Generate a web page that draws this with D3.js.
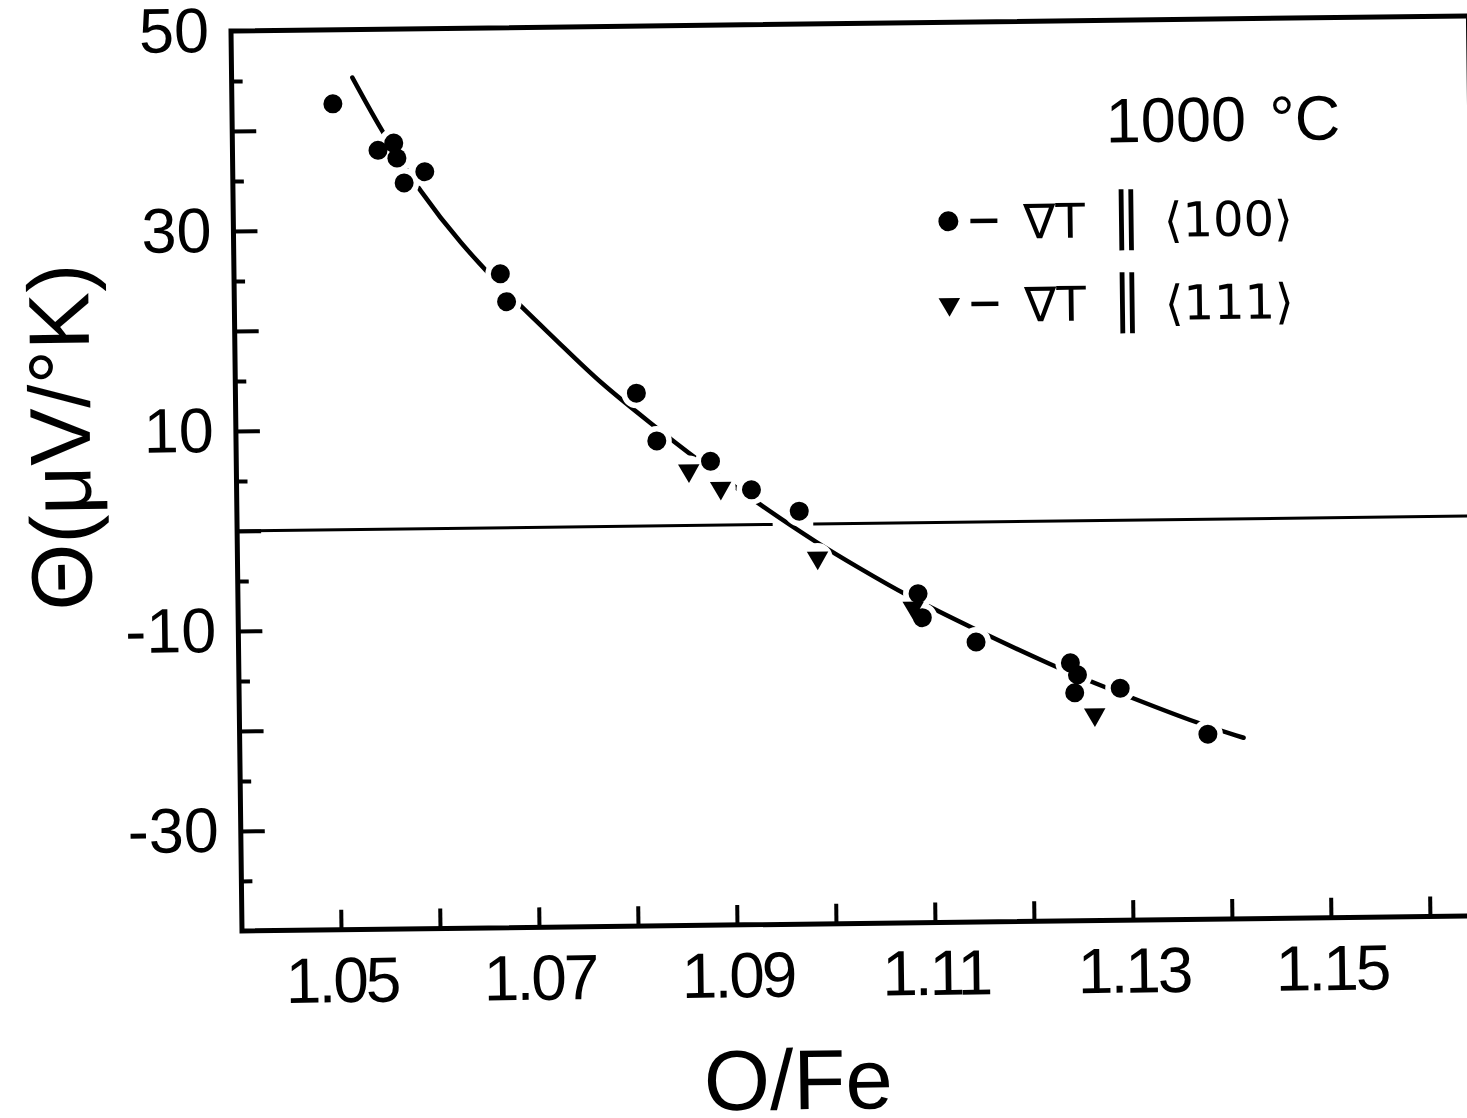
<!DOCTYPE html>
<html>
<head>
<meta charset="utf-8">
<script src="https://cdn.jsdelivr.net/npm/d3@7"></script>
<style>
    body { margin: 0; background: #fff; }
    svg { display: block; }
    text { font-family: "Liberation Sans", Arial, "DejaVu Sans", sans-serif; fill: #000; }
</style>
</head>
<body>
<div id="chart"></div>
<script>

// thermoelectric power vs O/Fe at 1000 C
// filled circles: grad T || <100>
const circleX = [1.0502, 1.0547, 1.0563, 1.0566, 1.0573, 1.0594, 1.0669, 1.0675, 1.0805, 1.0825, 1.0879,
                 1.0920, 1.0968, 1.1087, 1.1091, 1.1145, 1.1240, 1.1247, 1.1244, 1.1290, 1.1378];
const circleY = [42.6, 37.9, 38.6, 37.1, 34.6, 35.7, 25.4, 22.6, 13.3, 8.5, 6.4,
                 3.5, 1.3, -7.1, -9.5, -12.0, -14.2, -15.4, -17.2, -16.8, -21.5];

// filled down triangles: grad T || <111>
const triangleX = [1.0857, 1.0889, 1.0986, 1.1082, 1.1264];
const triangleY = [5.5, 3.7, -3.4, -8.5, -19.4];

// hand drawn fit curve
const curveX = [1.0522, 1.0552, 1.0589, 1.0629, 1.0674, 1.0729, 1.0768, 1.0820, 1.0861, 1.0928,
                1.0987, 1.1027, 1.1074, 1.1141, 1.1225, 1.1275, 1.1367, 1.1414];
const curveY = [45.2, 39.6, 33.7, 28.5, 23.6, 18.3, 14.4, 10.2, 6.9, 2.0,
                -2.0, -4.4, -7.2, -10.6, -14.6, -16.7, -20.4, -21.9];

// zero line is broken where the curve crosses it
const zeroGap = [1.0941, 1.0982];

const xDomain = [1.04, 1.165];
const yDomain = [-40, 50];
const xTickValues = [1.05, 1.06, 1.07, 1.08, 1.09, 1.10, 1.11, 1.12, 1.13, 1.14, 1.15, 1.16];
const xTickLabels = ["1.05", "1.07", "1.09", "1.11", "1.13", "1.15"];
const yMajorTicks = [40, 30, 20, 10, 0, -10, -20, -30];
const yMinorTicks = [45, 35, 25, 15, 5, -5, -15, -25, -35];
const yTickLabels = [50, 30, 10, -10, -30];

const legendDirections = ["\u27E8100\u27E9", "\u27E8111\u27E9"];


const width = 1467, height = 1118;
const plotW = 1237.5, plotH = 900;
const tilt = -0.7;   // the scan is slightly rotated

const svg = d3.select("#chart").append("svg")
    .attr("width", width)
    .attr("height", height);

svg.append("rect")
    .attr("width", width)
    .attr("height", height)
    .attr("fill", "#fff");

const g = svg.append("g")
    .attr("transform", `translate(242, 931) rotate(${tilt}) translate(0, ${-plotH})`);

const x = d3.scaleLinear().domain(xDomain).range([0, plotW]);
const y = d3.scaleLinear().domain(yDomain).range([plotH, 0]);

// axes
const fmt = d3.format(".2f");
const xAxis = d3.axisBottom(x)
    .tickValues(xTickValues)
    .tickSizeInner(-20)
    .tickSizeOuter(0)
    .tickPadding(27)
    .tickFormat(d => xTickLabels.includes(fmt(d)) ? fmt(d) : "");

const xg = g.append("g")
    .attr("transform", `translate(0, ${plotH})`)
    .call(xAxis);

const yLabelAxis = d3.axisLeft(y).tickValues(yTickLabels).tickSize(0).tickPadding(22).tickFormat(d => String(d));
const yMajorAxis = d3.axisLeft(y).tickValues(yMajorTicks).tickSizeInner(-24).tickSizeOuter(0).tickFormat("");
const yMinorAxis = d3.axisLeft(y).tickValues(yMinorTicks).tickSizeInner(-11).tickSizeOuter(0).tickFormat("");

const yg1 = g.append("g").call(yLabelAxis);
const yg2 = g.append("g").call(yMajorAxis);
const yg3 = g.append("g").call(yMinorAxis);

[xg, yg1, yg2, yg3].forEach(a => {
    a.attr("font-family", null).attr("font-size", null);
    a.select(".domain").remove();
    a.selectAll(".tick line").attr("stroke", "#000").attr("stroke-width", 4);
});
xg.selectAll("text").style("font-size", "64px").style("letter-spacing", "-3px");
yg1.selectAll("text").style("font-size", "63px");

// frame
g.append("rect")
    .attr("x", 0)
    .attr("y", 0)
    .attr("width", plotW)
    .attr("height", plotH)
    .attr("fill", "none")
    .attr("stroke", "#000")
    .attr("stroke-width", 5);

// zero line
g.selectAll(".zero")
    .data([[xDomain[0], zeroGap[0]], [zeroGap[1], xDomain[1]]])
    .enter().append("line")
    .attr("class", "zero")
    .attr("x1", d => x(d[0]))
    .attr("x2", d => x(d[1]))
    .attr("y1", y(0))
    .attr("y2", y(0))
    .attr("stroke", "#000")
    .attr("stroke-width", 3);

// fit curve
const line = d3.line()
    .x(d => x(d[0]))
    .y(d => y(d[1]))
    .curve(d3.curveBasis);

g.append("path")
    .datum(d3.zip(curveX, curveY))
    .attr("d", line)
    .attr("fill", "none")
    .attr("stroke", "#000")
    .attr("stroke-width", 4.5)
    .attr("stroke-linecap", "round");

const circles = d3.zip(circleX, circleY);
const triangles = d3.zip(triangleX, triangleY);

// white gaps in the curve around the points
g.selectAll(".halo")
    .data(circles.concat(triangles))
    .enter().append("circle")
    .attr("class", "halo")
    .attr("cx", d => x(d[0]))
    .attr("cy", d => y(d[1]))
    .attr("r", 15)
    .attr("fill", "#fff");

const tri = d3.symbol().type(d3.symbolTriangle).size(200);

g.selectAll(".tri")
    .data(triangles)
    .enter().append("path")
    .attr("class", "tri")
    .attr("d", tri)
    .attr("transform", d => `translate(${x(d[0])}, ${y(d[1])}) rotate(180)`)
    .attr("fill", "#000");

g.selectAll(".dot")
    .data(circles)
    .enter().append("circle")
    .attr("class", "dot")
    .attr("cx", d => x(d[0]))
    .attr("cy", d => y(d[1]))
    .attr("r", 9.5)
    .attr("fill", "#000");

// legend
g.append("text")
    .attr("x", 1108)
    .attr("y", 122)
    .attr("text-anchor", "end")
    .style("font-size", "63px")
    .style("word-spacing", "6px")
    .text("1000 \u00B0C");

const legend = g.selectAll(".legend")
    .data(legendDirections)
    .enter().append("g")
    .attr("class", "legend")
    .attr("transform", (d, i) => `translate(715, ${199 + i * 83})`);

legend.filter((d, i) => i === 0).append("circle")
    .attr("r", 10)
    .attr("fill", "#000");

legend.filter((d, i) => i === 1).append("path")
    .attr("d", tri)
    .attr("transform", "rotate(180)")
    .attr("fill", "#000");

legend.append("line")
    .attr("x1", 22)
    .attr("x2", 49)
    .attr("stroke", "#000")
    .attr("stroke-width", 4.5);

const legendText = legend.append("text")
    .attr("x", 75)
    .attr("y", 18)
    .style("font-family", "'DejaVu Sans', sans-serif")
    .style("font-size", "48px");

legendText.append("tspan").text("\u2207T");
legendText.append("tspan").attr("dx", 26).style("font-size", "62px").text("\u2225");
legendText.append("tspan").attr("dx", 22).text(d => d);

// axis titles
g.append("text")
    .attr("x", x(1.096))
    .attr("y", plotH + 185)
    .attr("text-anchor", "middle")
    .style("font-size", "85px")
    .text("O/Fe");

g.append("text")
    .attr("transform", `translate(-146, 404) rotate(-90)`)
    .attr("text-anchor", "middle")
    .style("font-size", "86px")
    .text("\u0398(\u03BCV/\u00B0K)");

</script>
</body>
</html>
